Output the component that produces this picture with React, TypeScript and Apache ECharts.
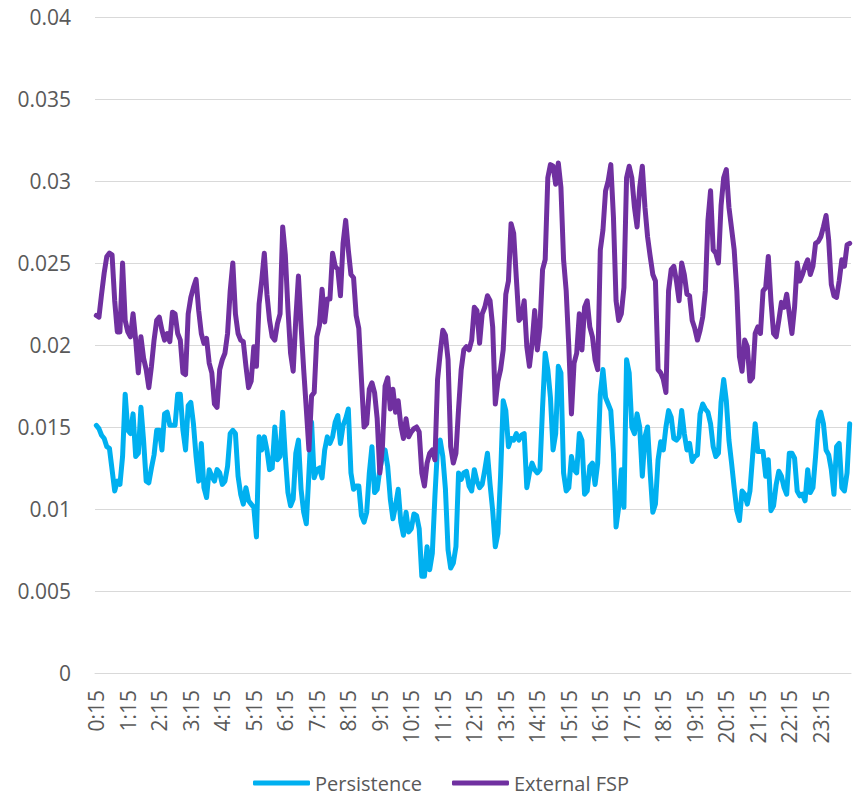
import React, { useEffect, useRef } from "react";
import * as echarts from "echarts";

const hourLabels = ["0","1","2","3","4","5","6","7","8","9","10","11","12","13","14","15","16","17","18","19","20","21","22","23"];
const minuteLabels = ["15","20","25","30","35","40","45","50","55","00","05","10"];

const persistence = [
  0.0151, 0.0149, 0.0145, 0.0143, 0.0138, 0.0137, 0.0124, 0.0111, 0.0117, 0.0115, 0.0132, 0.017,
  0.0148, 0.0146, 0.0158, 0.0132, 0.0134, 0.0162, 0.0142, 0.0117, 0.0116, 0.0125, 0.0133, 0.0148,
  0.0148, 0.0136, 0.0158, 0.0159, 0.0151, 0.0151, 0.0151, 0.017, 0.017, 0.0148, 0.0136, 0.0163,
  0.0165, 0.0152, 0.0132, 0.0117, 0.014, 0.0113, 0.0107, 0.0124, 0.012, 0.0117, 0.0124, 0.0122,
  0.0115, 0.0117, 0.0126, 0.0146, 0.0148, 0.0146, 0.012, 0.0109, 0.0103, 0.0113, 0.0105, 0.0103,
  0.0101, 0.0083, 0.0144, 0.0136, 0.0144, 0.0136, 0.0124, 0.0125, 0.015, 0.013, 0.0132, 0.0159,
  0.0132, 0.011, 0.0102, 0.0106, 0.0134, 0.0142, 0.0112, 0.0098, 0.0091, 0.0122, 0.0153, 0.0119,
  0.0124, 0.0125, 0.0119, 0.0136, 0.0144, 0.014, 0.0144, 0.0153, 0.0157, 0.014, 0.0151, 0.0155,
  0.0161, 0.0122, 0.0112, 0.0114, 0.0114, 0.0096, 0.0092, 0.0098, 0.0122, 0.0138, 0.011, 0.0112,
  0.0124, 0.0132, 0.0136, 0.0126, 0.0106, 0.0094, 0.0102, 0.0112, 0.0092, 0.0084, 0.0098, 0.0086,
  0.0088, 0.0097, 0.0096, 0.0088, 0.0059, 0.0059, 0.0077, 0.0063, 0.0073, 0.0108, 0.0138, 0.0142,
  0.0132, 0.0112, 0.0075, 0.0064, 0.0067, 0.0077, 0.0122, 0.0118, 0.0122, 0.0123, 0.0114, 0.0111,
  0.0124, 0.0117, 0.0113, 0.0115, 0.0124, 0.0134, 0.0115, 0.0099, 0.0077, 0.0085, 0.012, 0.0166,
  0.016, 0.0138, 0.0143, 0.0142, 0.0146, 0.0142, 0.0145, 0.0146, 0.0113, 0.0122, 0.0128, 0.0124,
  0.0122, 0.0124, 0.0162, 0.0195, 0.0185, 0.0168, 0.0136, 0.0146, 0.0187, 0.0183, 0.0122, 0.0111,
  0.0113, 0.0132, 0.0124, 0.0122, 0.0146, 0.0142, 0.0109, 0.0111, 0.0126, 0.0128, 0.0115, 0.0128,
  0.017, 0.0185, 0.0168, 0.0164, 0.016, 0.0134, 0.0089, 0.0101, 0.0124, 0.0101, 0.0191, 0.0183,
  0.015, 0.0146, 0.0158, 0.015, 0.012, 0.0144, 0.015, 0.0122, 0.0098, 0.0103, 0.013, 0.0141,
  0.0136, 0.015, 0.016, 0.0156, 0.0143, 0.0142, 0.0144, 0.016, 0.0146, 0.0136, 0.014, 0.0129,
  0.0132, 0.0133, 0.0158, 0.0164, 0.0161, 0.0159, 0.0152, 0.0138, 0.0132, 0.0134, 0.0165, 0.0179,
  0.0166, 0.0142, 0.0128, 0.0113, 0.0099, 0.0093, 0.0111, 0.0109, 0.0103, 0.0111, 0.0132, 0.0152,
  0.0135, 0.0135, 0.0135, 0.012, 0.013, 0.0099, 0.0102, 0.0115, 0.0123, 0.012, 0.0113, 0.0109,
  0.0134, 0.0134, 0.0131, 0.0111, 0.0108, 0.0109, 0.0105, 0.0124, 0.011, 0.0113, 0.0132, 0.0154,
  0.0159, 0.0152, 0.0136, 0.0133, 0.0124, 0.0109, 0.0138, 0.014, 0.0113, 0.0111, 0.0122, 0.0152,
];

const externalFsp = [
  0.0218, 0.0217, 0.0231, 0.0244, 0.0254, 0.0256, 0.0255, 0.0227, 0.0208, 0.0208, 0.025, 0.0215,
  0.0208, 0.0205, 0.0219, 0.0203, 0.0183, 0.0205, 0.0192, 0.0185, 0.0174, 0.0187, 0.0203, 0.0215,
  0.0217, 0.0209, 0.0203, 0.0207, 0.0202, 0.022, 0.0219, 0.0207, 0.0203, 0.0183, 0.0182, 0.0219,
  0.0229, 0.0235, 0.024, 0.0221, 0.0207, 0.0201, 0.0204, 0.0189, 0.0183, 0.0164, 0.0162, 0.0185,
  0.0191, 0.0195, 0.0207, 0.0233, 0.025, 0.0219, 0.0207, 0.0203, 0.0202, 0.0187, 0.0174, 0.0178,
  0.0199, 0.0187, 0.0225, 0.0239, 0.0256, 0.0231, 0.0215, 0.0205, 0.0203, 0.0213, 0.0219, 0.0272,
  0.0255, 0.0222, 0.0195, 0.0184, 0.0216, 0.0242, 0.0212, 0.0185, 0.0161, 0.0136, 0.0169, 0.0171,
  0.0205, 0.0212, 0.0234, 0.0214, 0.0228, 0.0228, 0.0256, 0.0248, 0.0246, 0.023, 0.0262, 0.0276,
  0.0258, 0.0243, 0.0241, 0.0218, 0.021, 0.0179, 0.015, 0.0152, 0.0173, 0.0177, 0.0171, 0.0155,
  0.0122, 0.0138, 0.0175, 0.018, 0.0161, 0.0173, 0.0159, 0.0166, 0.0151, 0.0143, 0.0155, 0.0144,
  0.0147, 0.0149, 0.015, 0.0147, 0.0122, 0.0114, 0.0128, 0.0134, 0.0136, 0.013, 0.0179, 0.0195,
  0.0209, 0.0206, 0.0191, 0.0138, 0.0128, 0.0134, 0.0161, 0.0185, 0.0197, 0.0199, 0.0197, 0.0203,
  0.0223, 0.0221, 0.0201, 0.0219, 0.0223, 0.023, 0.0227, 0.0211, 0.0164, 0.0178, 0.0185, 0.0197,
  0.0231, 0.0239, 0.0274, 0.0268, 0.0241, 0.0215, 0.0217, 0.0227, 0.0199, 0.0187, 0.0201, 0.0221,
  0.0197, 0.0211, 0.0246, 0.0252, 0.0302, 0.031, 0.0309, 0.0298, 0.0311, 0.0296, 0.0252, 0.0233,
  0.0199, 0.0158, 0.0189, 0.0195, 0.0219, 0.0197, 0.0223, 0.0227, 0.0211, 0.0205, 0.0191, 0.0185,
  0.0258, 0.027, 0.0294, 0.03, 0.031, 0.0278, 0.0227, 0.0215, 0.0219, 0.0235, 0.0302, 0.0309,
  0.0302, 0.0284, 0.0272, 0.0296, 0.0309, 0.0284, 0.0266, 0.0254, 0.0243, 0.0239, 0.0185, 0.0183,
  0.0179, 0.0171, 0.0233, 0.0246, 0.0248, 0.0239, 0.0227, 0.025, 0.0243, 0.0231, 0.023, 0.0215,
  0.021, 0.0203, 0.0209, 0.0217, 0.0233, 0.0276, 0.0294, 0.0258, 0.0256, 0.025, 0.0285, 0.0302,
  0.0307, 0.0284, 0.0271, 0.0258, 0.0233, 0.0193, 0.0184, 0.0203, 0.0199, 0.0178, 0.018, 0.0207,
  0.0211, 0.0207, 0.0233, 0.0235, 0.0254, 0.0227, 0.0207, 0.0205, 0.0215, 0.0226, 0.0223, 0.0231,
  0.0219, 0.0207, 0.0223, 0.025, 0.0239, 0.0243, 0.0248, 0.0252, 0.0243, 0.0248, 0.0262, 0.0263,
  0.0266, 0.0272, 0.0279, 0.0264, 0.0237, 0.023, 0.0229, 0.0239, 0.0252, 0.0248, 0.0261, 0.0262,
];

const seriesNames = ["Persistence", "External FSP"];
const seriesColors = ["#00B0F0", "#7030A0"];

// Category labels: 5-minute steps starting at 0:15
const categories: string[] = [];
hourLabels.forEach((h, hi) => {
  minuteLabels.forEach((m, mi) => {
    const hour = mi >= 9 ? (hi + 1) % 24 : hi;
    categories.push(`${hour}:${m}`);
  });
});

const FONT = "'Open Sans', 'Noto Sans', sans-serif";
const TEXT = "#595959";
const GRID = "#D9D9D9";

export default function App() {
  const ref = useRef<HTMLDivElement>(null);
  useEffect(() => {
    if (!ref.current) return;
    const chart = echarts.init(ref.current, null, { renderer: "svg" });
    chart.setOption({
      animation: false,
      backgroundColor: "#ffffff",
      textStyle: { fontFamily: FONT },
      grid: { left: 95, right: 3, top: 17, bottom: 123, containLabel: false },
      legend: {
        left: 253,
        top: 772,
        padding: 0,
        itemWidth: 57,
        itemHeight: 5,
        itemGap: 30,
        icon: "roundRect",
        textStyle: { color: TEXT, fontSize: 20, lineHeight: 22, fontFamily: FONT },
        data: seriesNames,
      },
      xAxis: {
        type: "category",
        data: categories,
        boundaryGap: true,
        axisLine: { show: true, lineStyle: { color: GRID, width: 1 } },
        axisTick: { show: false },
        splitLine: { show: false },
        axisLabel: {
          interval: 11,
          rotate: 90,
          margin: 17,
          color: TEXT,
          fontSize: 21,
          fontFamily: FONT,
        },
      },
      yAxis: {
        type: "value",
        min: 0,
        max: 0.04,
        interval: 0.005,
        axisLine: { show: false },
        axisTick: { show: false },
        splitLine: { show: true, lineStyle: { color: GRID, width: 1 } },
        axisLabel: {
          margin: 24,
          color: TEXT,
          fontSize: 21,
          fontFamily: FONT,
        },
      },
      series: [
        {
          name: seriesNames[0],
          type: "line",
          data: persistence,
          symbol: "none",
          color: seriesColors[0],
          lineStyle: { width: 5, color: seriesColors[0], cap: "round", join: "round" },
        },
        {
          name: seriesNames[1],
          type: "line",
          data: externalFsp,
          symbol: "none",
          color: seriesColors[1],
          lineStyle: { width: 5, color: seriesColors[1], cap: "round", join: "round" },
        },
      ],
    });
    return () => chart.dispose();
  }, []);
  return (
    <div
      ref={ref}
      style={{ position: "fixed", left: 0, top: 0, width: 854, height: 796, background: "#fff" }}
    />
  );
}
